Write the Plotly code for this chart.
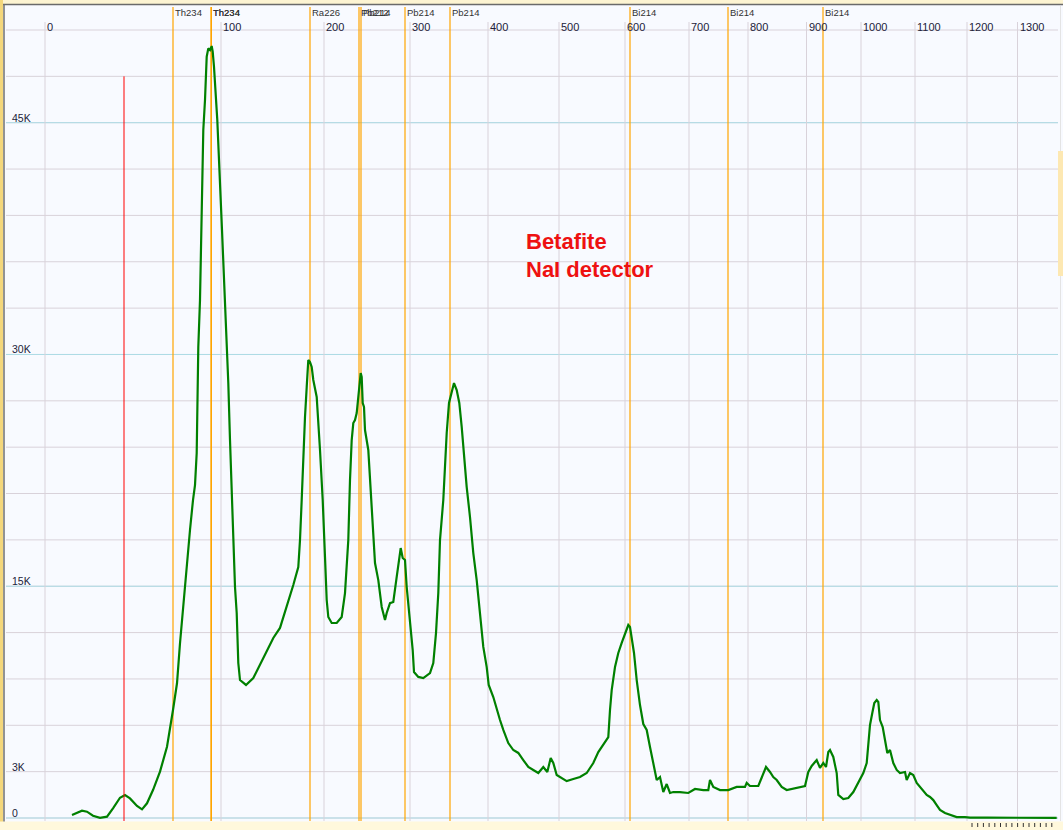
import plotly.graph_objects as go

# ---------------- data ----------------
# spectrum: x = channel, y = counts
channels = [
    66, 76, 81, 87, 94, 101, 107, 114, 119, 124,
    131, 136, 141, 147, 154, 161, 167, 171, 174, 177,
    181, 184, 187, 189, 190.7, 191.3, 192.3, 194, 197.3, 199,
    200, 200.7, 202.3, 204, 205.7, 206.7, 208, 209.7, 211.3, 216,
    220.7, 222.3, 224, 225.7, 227.3, 229, 230.7, 232.3, 234, 240,
    247.3, 254, 260.7, 267.3, 274, 280.7, 287.3, 292.3, 294, 295.7,
    297.3, 299, 300.7, 302.3, 304, 305.7, 307.3, 310.7, 314, 316.7,
    319, 320.7, 322.3, 325.7, 330.7, 335.7, 339, 342.3, 344, 345.7,
    347.3, 349, 350.7, 353.3, 354.7, 355.7, 356.7, 358, 359, 362.3,
    364, 367.3, 369, 372.3, 375.7, 379, 380.7, 384, 387.3, 390.7,
    393.3, 394.7, 396.7, 399, 400.7, 404, 406.7, 408, 412.3, 417.3,
    424, 427.3, 430, 432.3, 434, 437.3, 439, 440.7, 443, 445.7,
    448, 450.7, 453.3, 455.7, 457.3, 460.7, 464, 467.3, 470.7, 474,
    477.3, 480.7, 482.7, 487.3, 490.7, 494, 497.3, 502.3, 507.3, 512.3,
    517.3, 522.3, 527.3, 532.3, 537.3, 541.3, 544.7, 547.3, 550.7, 555.7,
    560.7, 567.3, 574, 580.7, 587.3, 592.3, 597.3, 602.3, 604, 605.7,
    609, 612.3, 615.7, 619, 622.3, 624, 625.7, 628, 630.7, 634,
    637.3, 640.7, 644, 647.3, 650.7, 654, 657.3, 660.7, 664, 667.3,
    674, 682.3, 689, 697.3, 702.3, 704, 707.3, 714, 722.3, 730.7,
    739, 740.7, 744, 752.3, 755.7, 760, 764, 767.3, 770.7, 775.7,
    780.7, 790.7, 799, 802.3, 805.7, 809, 810.7, 814, 817.3, 820,
    822.3, 824, 827.3, 830.7, 832.3, 837.3, 842.3, 847.3, 852.3, 857.3,
    860.7, 862.3, 864, 866.3, 868.3, 870.7, 872.3, 874, 876.7, 879,
    881.3, 884, 887.3, 890.7, 894, 899, 900.7, 904, 907.3, 910.7,
    914, 917.3, 920.7, 924, 927.3, 930.7, 934, 939, 944, 950.7,
    959, 964, 980.7, 1000.7, 1050.7,
]
counts = [
    190, 470, 410, 150, 10, 85, 630, 1310, 1490, 1270,
    780, 560, 950, 1810, 3000, 4610, 6990, 8720, 11310, 13680,
    16480, 18640, 20580, 21550, 23620, 27050, 30480, 33520, 44530, 46470,
    47980, 49270, 49810, 49700, 49960, 49600, 48620, 47120, 45170, 38060,
    30940, 28150, 24460, 21230, 17990, 14950, 13270, 10030, 8930, 8610,
    9060, 9900, 10740, 11650, 12300, 13660, 15080, 16240, 17990, 20580,
    23360, 25950, 27890, 29640, 29510, 29190, 28350, 27250, 23820, 20580,
    16890, 14110, 13010, 12620, 12620, 13010, 14560, 17990, 21870, 24460,
    25560, 25760, 26210, 27700, 28800, 28540, 26860, 26600, 25110, 23820,
    21870, 18190, 16500, 15400, 13660, 12810, 13270, 13910, 13980, 15600,
    16890, 17470, 16830, 16700, 14950, 12810, 10870, 9450, 9130, 9060,
    9380, 10030, 11970, 14560, 17990, 20580, 22720, 24920, 26860, 27570,
    28150, 27700, 26860, 25310, 24010, 21420, 19480, 17150, 15400, 13270,
    11070, 9770, 8610, 7830, 6990, 6340, 5700, 4850, 4400, 4210,
    3750, 3300, 3110, 2910, 3300, 2980, 3880, 3560, 2780, 2590,
    2390, 2520, 2650, 2910, 3560, 4270, 4720, 5240, 6990, 8280,
    9770, 10680, 11330, 11970, 12490, 12360, 11520, 10680, 8930, 7310,
    6080, 5700, 4600, 3620, 2460, 2650, 1680, 2200, 1620, 1680,
    1680, 1620, 1880, 1810, 1810, 2460, 2010, 1810, 1810, 2010,
    2010, 2270, 2070, 2070, 2590, 3300, 2980, 2650, 2460, 2010,
    1810, 1940, 2070, 2980, 3370, 3620, 3750, 3240, 3560, 3300,
    4270, 4400, 3950, 2910, 1490, 1230, 1290, 1680, 2270, 2910,
    3560, 4600, 6020, 6800, 7440, 7640, 7510, 6340, 5890, 5050,
    4210, 4400, 3560, 3110, 2910, 2980, 2460, 2910, 2780, 2270,
    2010, 1810, 1490, 1360, 1160, 840, 520, 320, 190, 60,
    60, 20, 20, 15, 10,
]

# energy axis (keV) labels and the channel where each sits
energy_labels = [0, 100, 200, 300, 400, 500, 600, 700, 800, 900, 1000, 1100, 1200, 1300]
energy_channels = [39, 215, 318, 404, 482, 553, 619, 683, 742, 800.5, 855, 909, 961, 1011.5]

# count axis labels
count_ticks = [0, 3000, 15000, 30000, 45000]
count_labels = ["0", "3K", "15K", "30K", "45K"]

# isotope marker lines
marker_labels = ["Th234", "Th234", "Th234", "Ra226", "Pb212", "Pb214", "Pb214", "Pb214",
                 "Bi214", "Bi214", "Bi214"]
marker_channels = [167, 205, 205.4, 304, 353, 355, 399, 444, 624, 722, 817]

cursor_channel = 118
cursor_top = 48000

# ---------------- geometry helpers ----------------
W, H = 1063, 830
ML, MR, MT, MB = 6, 5, 6, 9
PW = W - ML - MR
PH = H - MT - MB
X_RANGE = [0, PW]
Y_MIN, Y_MAX = -194, 52553


def py(p):  # pixel row -> paper y
    return (H - MB - p) / PH


def px(p):  # pixel column -> paper x
    return (p - ML) / PW


BG = "#F8FAFF"
GRID = "#D9D2DA"
BLUE = "#ADDCE6"
ORANGE = "#FFA500"
FONT = "Liberation Sans, Arial"

shapes = []
annotations = []

# horizontal grid every 3K
for v in range(0, 51001, 3000):
    shapes.append(dict(type="line", xref="paper", yref="y", x0=0, x1=1, y0=v, y1=v,
                       line=dict(color=GRID, width=1), layer="below"))
for v in range(0, 51001, 15000):
    shapes.append(dict(type="line", xref="paper", yref="y", x0=0, x1=1, y0=v, y1=v,
                       line=dict(color=BLUE, width=1), layer="below"))

# vertical energy grid + labels
for e, c in zip(energy_labels, energy_channels):
    shapes.append(dict(type="line", xref="x", yref="paper", x0=c, x1=c, y0=0, y1=py(22),
                       line=dict(color=GRID, width=1), layer="below"))
    annotations.append(dict(x=c, y=py(27), xref="x", yref="paper", text=str(e),
                            showarrow=False, xanchor="left", yanchor="middle", xshift=0,
                            font=dict(family=FONT, size=11, color="#22223A")))

# isotope markers
for lab, c in zip(marker_labels, marker_channels):
    shapes.append(dict(type="line", xref="x", yref="paper", x0=c, x1=c, y0=0, y1=py(7),
                       line=dict(color=ORANGE, width=1.2), layer="below"))
    annotations.append(dict(x=c, y=py(13), xref="x", yref="paper", text=lab,
                            showarrow=False, xanchor="left", yanchor="middle", xshift=0,
                            font=dict(family=FONT, size=9.5, color="#333333")))

# y labels
for v, t in zip(count_ticks, count_labels):
    annotations.append(dict(x=px(10), y=v, xref="paper", yref="y", text=t,
                            showarrow=False, xanchor="left", yanchor="middle", yshift=5,
                            font=dict(family=FONT, size=10.5, color="#22223A")))

# cursor line
shapes.append(dict(type="line", xref="x", yref="y", x0=cursor_channel, x1=cursor_channel,
                   y0=Y_MIN, y1=cursor_top, line=dict(color="#FF0000", width=1), layer="above"))

# title text
annotations.append(dict(x=px(524), y=py(241), xref="paper", yref="paper", text="<b>Betafite</b>",
                        showarrow=False, xanchor="left", yanchor="middle",
                        font=dict(family=FONT, size=22, color="#EE1111")))
annotations.append(dict(x=px(524), y=py(269), xref="paper", yref="paper", text="<b>NaI detector</b>",
                        showarrow=False, xanchor="left", yanchor="middle",
                        font=dict(family=FONT, size=22, color="#EE1111")))

# window frame decorations
shapes += [
    dict(type="rect", xref="paper", yref="paper", x0=px(0), x1=px(W), y0=py(4), y1=py(0),
         fillcolor="#FDF4D2", line=dict(width=0), layer="above"),
    dict(type="line", xref="paper", yref="paper", x0=px(0), x1=px(W), y0=py(4.5), y1=py(4.5),
         line=dict(color="#6A6A6A", width=1.5), layer="above"),
    dict(type="rect", xref="paper", yref="paper", x0=px(0), x1=px(3), y0=py(H), y1=py(0),
         fillcolor="#F4D77C", line=dict(width=0), layer="above"),
    dict(type="line", xref="paper", yref="paper", x0=px(4), x1=px(4), y0=py(H), y1=py(4.5),
         line=dict(color="#707070", width=1.5), layer="above"),
    dict(type="rect", xref="paper", yref="paper", x0=px(0), x1=px(W), y0=py(H), y1=py(821.5),
         fillcolor="#FFF8DC", line=dict(width=0), layer="above"),
    dict(type="line", xref="paper", yref="paper", x0=px(1060.5), x1=px(1060.5), y0=py(821), y1=py(6),
         line=dict(color="#E4E4E4", width=1), layer="above"),
    dict(type="rect", xref="paper", yref="paper", x0=px(1058), x1=px(W), y0=py(276), y1=py(151),
         fillcolor="#FDE8B2", line=dict(width=0), layer="above"),
]
for i in range(15):
    xx = 972 + i * 5.7
    shapes.append(dict(type="line", xref="paper", yref="paper", x0=px(xx), x1=px(xx),
                       y0=py(827), y1=py(823), line=dict(color="#333333", width=1), layer="above"))

fig = go.Figure()
fig.add_trace(go.Scatter(x=channels, y=counts, mode="lines",
                         line=dict(color="#008000", width=2.2), hoverinfo="skip"))

fig.update_layout(
    width=W, height=H, autosize=False,
    margin=dict(l=ML, r=MR, t=MT, b=MB, pad=0),
    paper_bgcolor=BG, plot_bgcolor=BG,
    showlegend=False,
    xaxis=dict(range=X_RANGE, visible=False, showgrid=False, zeroline=False, fixedrange=True),
    yaxis=dict(range=[Y_MIN, Y_MAX], visible=False, showgrid=False, zeroline=False, fixedrange=True),
    shapes=shapes,
    annotations=annotations,
)

fig.write_html("out.html", config={"displayModeBar": False},
               post_script="document.body.style.margin='0px';document.body.style.overflow='hidden';")
